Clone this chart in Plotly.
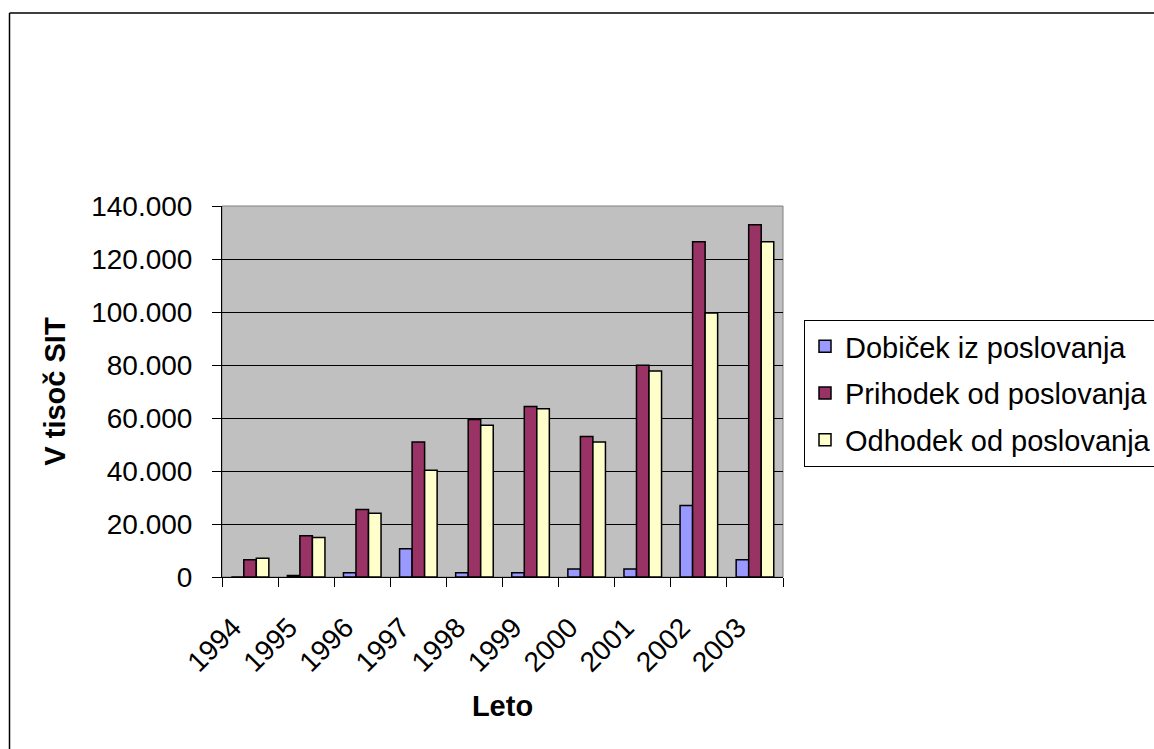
import plotly.graph_objects as go

# Poslovni rezultati po letih (v tisoč SIT)
leta = ["1994", "1995", "1996", "1997", "1998", "1999", "2000", "2001", "2002", "2003"]
dobicek = [0, 600, 1600, 10700, 1600, 1600, 3000, 3000, 27000, 6500]
prihodek = [6500, 15600, 25500, 50900, 59400, 64300, 53000, 79900, 126500, 132900]
odhodek = [7100, 14900, 24100, 40300, 57300, 63500, 50900, 77700, 99600, 126500]

serije = [
    ("Dobiček iz poslovanja", dobicek, "#9999FF"),
    ("Prihodek od poslovanja", prihodek, "#993366"),
    ("Odhodek od poslovanja", odhodek, "#FFFFCC"),
]

W, H = 1154, 749
L, R, T, B = 222, 783, 206, 577  # plot area in pixels


def px(x):
    return (x - L) / (R - L)


def py(y):
    return (B - y) / (B - T)


FONT = "Liberation Sans, Arial, sans-serif"

fig = go.Figure()
for i, (ime, vrednosti, barva) in enumerate(serije):
    fig.add_trace(go.Bar(
        name=ime, x=leta, y=vrednosti, legendgroup=f"g{i}",
        marker=dict(color=barva, line=dict(color="black", width=1.5)),
    ))

fig.update_layout(
    width=W, height=H,
    margin=dict(l=L, r=W - R, t=T, b=H - B, autoexpand=False),
    paper_bgcolor="white",
    plot_bgcolor="#C0C0C0",
    barmode="group",
    bargap=0.33,
    bargroupgap=0,
    separators=",.",
    font=dict(family=FONT, size=28, color="black"),
    legend=dict(
        x=px(804), y=py(320), xanchor="left", yanchor="top",
        bordercolor="black", borderwidth=1, bgcolor="white",
        font=dict(size=29), tracegroupgap=6,
    ),
    xaxis=dict(
        type="category", tickangle=-45, tickson="boundaries",
        ticks="outside", ticklen=9, tickcolor="black",
        showline=True, linecolor="black", linewidth=1,
        ticklabelstandoff=22, ticklabelshift=-17,
        title=dict(text="<b>Leto</b>", font=dict(size=29), standoff=18),
    ),
    yaxis=dict(
        range=[0, 140000], dtick=20000, tickformat=",d",
        ticks="outside", ticklen=9, tickcolor="black",
        showline=True, linecolor="black", linewidth=1,
        gridcolor="black", gridwidth=1, zeroline=False,
        ticklabelstandoff=14,
        title=dict(text="<b>V tisoč SIT</b>", font=dict(size=29), standoff=17),
    ),
    shapes=[
        # plot area frame
        dict(type="rect", xref="paper", yref="paper", x0=0, x1=1, y0=0, y1=1,
             line=dict(color="#808080", width=1), layer="below"),
        # chart border
        dict(type="line", xref="paper", yref="paper",
             x0=px(9.5), x1=px(1160), y0=py(13), y1=py(13),
             line=dict(color="black", width=1.5)),
        dict(type="line", xref="paper", yref="paper",
             x0=px(9.5), x1=px(9.5), y0=py(13), y1=py(760),
             line=dict(color="black", width=1.5)),
    ],
)

fig.write_html("out.html")
